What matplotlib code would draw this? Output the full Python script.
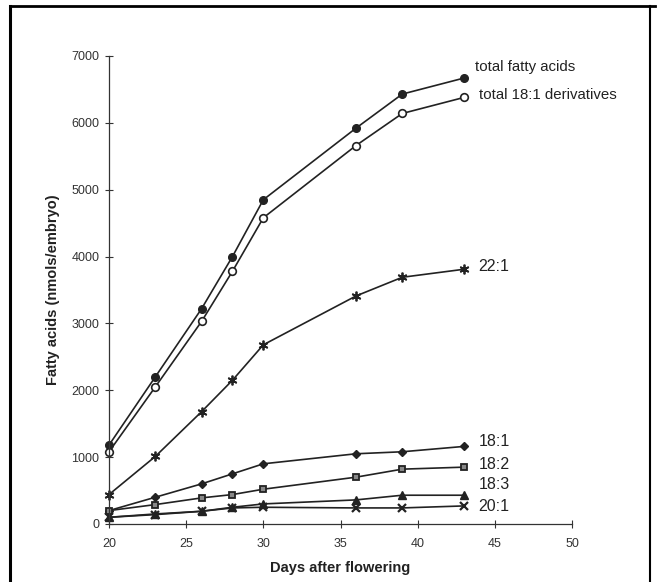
import matplotlib.pyplot as plt
from matplotlib.lines import Line2D

plt.rcParams['font.family'] = ['Liberation Sans', 'DejaVu Sans']

# days after flowering
days = [20, 23, 26, 28, 30, 36, 39, 43]

total_fa = [1180, 2200, 3220, 4000, 4850, 5920, 6430, 6670]
total_181 = [1080, 2050, 3030, 3780, 4580, 5660, 6140, 6380]
fa_221 = [440, 1010, 1680, 2150, 2680, 3410, 3690, 3810]
fa_181 = [200, 400, 600, 750, 900, 1050, 1080, 1160]
fa_182 = [200, 290, 390, 440, 520, 700, 820, 850]
fa_183 = [100, 150, 190, 250, 300, 360, 430, 430]
fa_201 = [100, 140, 190, 240, 250, 240, 240, 270]

labels = ['total fatty acids', 'total 18:1 derivatives', '22:1', '18:1', '18:2', '18:3', '20:1']
label_y = [6830, 6410, 3850, 1235, 890, 584, 267]

col = '#222222'

fig = plt.figure(figsize=(6.59, 5.82), dpi=100)
ax = fig.add_axes([0.1654, 0.0997, 0.868 - 0.1654, 0.9038 - 0.0997])

kw = dict(color=col, lw=1.2, clip_on=False)
ax.plot(days, total_fa, marker='o', ms=5.5, mfc=col, mec=col, **kw)
ax.plot(days, total_181, marker='o', ms=5.5, mfc='white', mec=col, mew=1.2, **kw)
ax.plot(days, fa_221, marker=(6, 2, 0), ms=7, mec=col, mew=1.3, **kw)
ax.plot(days, fa_181, marker='D', ms=4.5, mfc=col, mec=col, **kw)
ax.plot(days, fa_182, marker='s', ms=5, mfc='#888888', mec=col, mew=1.3, **kw)
ax.plot(days, fa_183, marker='^', ms=6, mfc=col, mec=col, **kw)
ax.plot(days, fa_201, marker='x', ms=6, mec=col, mew=1.6, **kw)

for i, lab in enumerate(labels):
    xx = 43.7 if i == 0 else 43.95
    ax.text(xx, label_y[i], lab, fontsize=10.8 if i < 2 else 11.5, color=col,
            va='center', ha='left')

ax.set_xlim(20, 50)
ax.set_ylim(0, 7000)
ax.set_xticks([20, 25, 30, 35, 40, 45, 50])
ax.set_yticks(range(0, 7001, 1000))
ax.spines['top'].set_visible(False)
ax.spines['right'].set_visible(False)
for s in ['left', 'bottom']:
    ax.spines[s].set_color('#333333')
    ax.spines[s].set_linewidth(0.9)
ax.tick_params(direction='inout', length=6, width=0.8, colors='#333333',
               labelsize=9, pad=4)
ax.tick_params(axis='x', pad=7)

ax.set_xlabel('Days after flowering', fontsize=10.5, fontweight='bold', color=col, labelpad=8)
ax.set_ylabel('Fatty acids (nmols/embryo)', fontsize=10.5, fontweight='bold', color=col, labelpad=8)

# scanned page border
fig.add_artist(Line2D([10/659, 10/659], [0, 1 - 6/582], transform=fig.transFigure, color='black', lw=2.2))
fig.add_artist(Line2D([10/659, 655/659], [1 - 6/582, 1 - 6/582], transform=fig.transFigure, color='black', lw=2.0))
fig.add_artist(Line2D([650/659, 650/659], [0, 1 - 6/582], transform=fig.transFigure, color='black', lw=1.5))

fig.savefig('out.png', dpi=100)
